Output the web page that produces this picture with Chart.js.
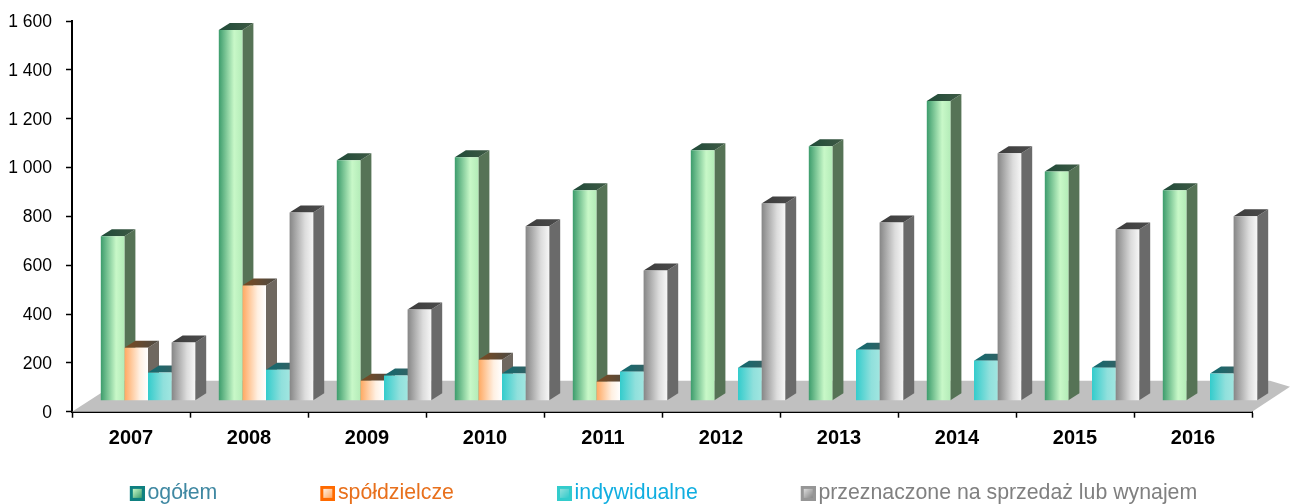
<!DOCTYPE html>
<html>
<head>
<meta charset="utf-8">
<style>
  html, body { margin: 0; padding: 0; background: #fff; }
  #wrap { width: 1290px; height: 504px; }
</style>
<script src="https://cdn.jsdelivr.net/npm/chart.js@4"></script>
</head>
<body>
<div id="wrap"><canvas id="chart" width="1290" height="504"></canvas></div>
<script>
// values
var years = ['2007', '2008', '2009', '2010', '2011', '2012', '2013', '2014', '2015', '2016'];
var ogolem = [673, 1518, 985, 997, 862, 1026, 1042, 1227, 939, 862];
var spoldzielcze = [217, 472, 82, 168, 78, null, null, null, null, null];
var indywidualne = [115, 127, 103, 111, 119, 135, 209, 164, 135, 111];
var naSprzedaz = [238, 771, 373, 714, 533, 808, 730, 1013, 701, 755];
var yTickLabels = ['0', '200', '400', '600', '800', '1 000', '1 200', '1 400', '1 600'];
var seriesNames = ['ogółem', 'spółdzielcze', 'indywidualne', 'przeznaczone na sprzedaż lub wynajem'];

// front, side and top colours per series
var looks = [
  { front: ['#3c9c6c', '#c8f8c8', '#b4ecb8'], side: '#567356', top: ['#1f4a38', '#3f5a45'], text: '#3f88a2', border: '#0f8080' },
  { front: ['#ffa860', '#fff0e2', '#ffffff'], side: '#6f6860', top: ['#7a4a20', '#4c4a44'], text: '#e8701c', border: '#ff6a00' },
  { front: ['#33cccc', '#90e0dc', '#a0e6e0'], side: '#6a7070', top: ['#0f6a70', '#3f5f60'], text: '#10aee0', border: '#33cccc' },
  { front: ['#868686', '#dcdcdc', '#f6f6f6'], side: '#6a6a6a', top: ['#3c3c3c', '#4c4c4c'], text: '#808080', border: '#969696' }
];

var BAR_SHIFT_X = 17, BAR_SHIFT_Y = -11;
var DEPTH_X = 11, DEPTH_Y = -7;

// the legend gap comes from the transparent left part of this image
function legendBox(look) {
  var c = document.createElement('canvas');
  c.width = 124; c.height = 15;
  var g = c.getContext('2d');
  g.translate(109, 0);
  g.fillStyle = look.border;
  g.fillRect(0, 0, 15, 15);
  var lg = g.createLinearGradient(3, 3, 12, 12);
  lg.addColorStop(0, look.front[1]);
  lg.addColorStop(1, look.front[0]);
  g.fillStyle = lg;
  g.fillRect(3, 3, 9, 9);
  return c;
}

// horizontal gradient of a bar front, from the bar's place on the x scale
function frontGradient(ctx) {
  var chart = ctx.chart, xs = chart.scales.x;
  if (!xs || !chart.chartArea) return looks[ctx.datasetIndex].front[0];
  var w = xs.width / years.length * 0.8 / 4;
  var left = xs.getPixelForValue(ctx.dataIndex) - 2 * w + ctx.datasetIndex * w;
  var lg = chart.ctx.createLinearGradient(left, 0, left + w, 0);
  var f = looks[ctx.datasetIndex].front;
  lg.addColorStop(0, f[0]);
  lg.addColorStop(0.65, f[1]);
  lg.addColorStop(1, f[2]);
  return lg;
}

var floorPlugin = {
  id: 'floor',
  beforeDraw: function (chart) {
    // centre the legend row where the reference has it
    chart.legend.right = 1226;
  },
  beforeDatasetsDraw: function (chart) {
    var c = chart.ctx, xs = chart.scales.x, ys = chart.scales.y;
    var y0 = ys.getPixelForValue(0);
    c.save();
    c.fillStyle = '#c0c0c0';
    c.beginPath();
    c.moveTo(xs.left, y0);
    c.lineTo(xs.right, y0);
    c.lineTo(xs.right + 38, y0 - 25);
    c.lineTo(xs.right + 18, y0 - 31);
    c.lineTo(xs.left + 48, y0 - 31);
    c.closePath();
    c.fill();
    c.restore();

    // shift the bars onto the floor, sides and tops go under all the fronts
    c.save();
    c.translate(BAR_SHIFT_X, BAR_SHIFT_Y);
    years.forEach(function (y, i) {
      chart.data.datasets.forEach(function (ds, d) {
        if (ds.data[i] == null) return;
        var bar = chart.getDatasetMeta(d).data[i], look = looks[d];
        var l = bar.x - bar.width / 2, r = bar.x + bar.width / 2;
        c.fillStyle = look.side;
        c.beginPath();
        c.moveTo(r, bar.y);
        c.lineTo(r + DEPTH_X, bar.y + DEPTH_Y);
        c.lineTo(r + DEPTH_X, bar.base + DEPTH_Y);
        c.lineTo(r, bar.base);
        c.closePath();
        c.fill();
        var lg = c.createLinearGradient(l, 0, r + DEPTH_X, 0);
        lg.addColorStop(0, look.top[0]);
        lg.addColorStop(1, look.top[1]);
        c.fillStyle = lg;
        c.beginPath();
        c.moveTo(l, bar.y);
        c.lineTo(r, bar.y);
        c.lineTo(r + DEPTH_X, bar.y + DEPTH_Y);
        c.lineTo(l + DEPTH_X, bar.y + DEPTH_Y);
        c.closePath();
        c.fill();
      });
    });
  },
  afterDatasetsDraw: function (chart) {
    chart.ctx.restore();
  }
};

var allSeries = [ogolem, spoldzielcze, indywidualne, naSprzedaz];
var ctx = document.getElementById('chart');
var chart = new Chart(ctx, {
  type: 'bar',
  plugins: [floorPlugin],
  data: {
    labels: years,
    datasets: allSeries.map(function (vals, i) {
      return {
        label: seriesNames[i],
        data: vals,
        clip: false,
        backgroundColor: frontGradient,
        borderWidth: 0,
        pointStyle: legendBox(looks[i]),
        categoryPercentage: 0.8,
        barPercentage: 1
      };
    })
  },
  options: {
    responsive: false,
    animation: false,
    layout: { padding: { top: 21, right: 38, bottom: -10, left: 0 } },
    plugins: {
      tooltip: { enabled: false },
      legend: {
        position: 'bottom',
        labels: {
          usePointStyle: true,
          pointStyleWidth: 108,
          padding: 2,
          font: { family: '"Liberation Sans"', size: 21.3 },
          generateLabels: function (chart) {
            return chart.data.datasets.map(function (ds, i) {
              return {
                text: ds.label,
                fontColor: looks[i].text,
                pointStyle: ds.pointStyle,
                datasetIndex: i,
                hidden: false,
                lineWidth: 0
              };
            });
          }
        }
      }
    },
    scales: {
      x: {
        afterFit: function (scale) { scale.height = 69; },
        grid: { drawOnChartArea: false, color: '#000', tickLength: 6, tickWidth: 1.5 },
        border: { color: '#000', width: 2 },
        ticks: { color: '#000', padding: 9, font: { family: '"Liberation Sans"', size: 20, weight: 'bold' }, maxRotation: 0 }
      },
      y: {
        min: 0,
        max: 1600,
        afterFit: function (scale) {
          scale.width = 72;
          scale.paddingTop = 0;
          scale.paddingBottom = 0;
        },
        grid: { drawOnChartArea: false, color: '#000', tickLength: 6, tickWidth: 1.5 },
        border: { color: '#000', width: 2 },
        ticks: {
          color: '#000',
          stepSize: 200,
          padding: 14,
          labelOffset: 1,
          font: { family: '"Liberation Sans"', size: 17.5 },
          callback: function (v, i) { return yTickLabels[i]; }
        }
      }
    }
  }
});
</script>
</body>
</html>
